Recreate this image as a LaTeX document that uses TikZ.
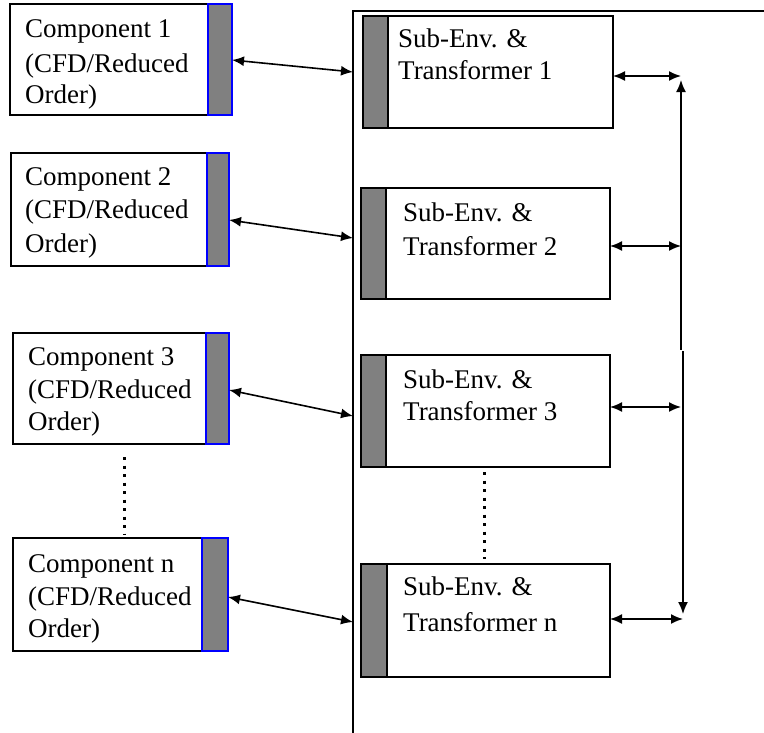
\documentclass[tikz,border=0pt]{standalone}
\usepackage{fontspec}
\setmainfont{Liberation Serif}
\usetikzlibrary{arrows.meta}
\definecolor{stripgray}{RGB}{128,128,128}
\begin{document}
\begin{tikzpicture}[x=1pt,y=-1pt,
  box/.style={draw=black, line width=1.6pt, fill=white, inner sep=0pt, outer sep=0pt, anchor=north west},
  cstrip/.style={draw=blue, line width=1.4pt, fill=stripgray, inner sep=0pt, outer sep=0pt, anchor=north west},
  sstrip/.style={draw=black, line width=1.6pt, fill=stripgray, inner sep=0pt, outer sep=0pt, anchor=north west},
  lbl/.style={anchor=base west, inner sep=0pt, font=\fontsize{27}{33}\selectfont},
  tip/.style={Latex[length=12pt,width=10pt]},
  link/.style={line width=1.6pt, {Latex[length=12pt,width=10pt]}-{Latex[length=12pt,width=10pt]}},
  dotline/.style={line width=3pt, dash pattern=on 3pt off 5.5pt},
]
\useasboundingbox (0,0) rectangle (764,732);

% enclosing frame
\coordinate (fb) at (353,740);
\coordinate (ftl) at (353,11);
\coordinate (fr) at (770,11);
\draw[line width=1.6pt] (fb) -- (ftl) -- (fr);

% components
\node[box, minimum width=222pt, minimum height=111pt] (c1) at (10,4) {};
\node[cstrip, minimum width=24pt, minimum height=111pt] (c1s) at (208,4) {};
\node[lbl] (c1a) at (25,37) {Component 1};
\node[lbl] (c1b) at (25,72) {(CFD/Reduced};
\node[lbl] (c1c) at (25,103) {Order)};

\node[box, minimum width=218pt, minimum height=113pt] (c2) at (11,153) {};
\node[cstrip, minimum width=22pt, minimum height=113pt] (c2s) at (207,153) {};
\node[lbl] (c2a) at (25,185) {Component 2};
\node[lbl] (c2b) at (25,218) {(CFD/Reduced};
\node[lbl] (c2c) at (25,252) {Order)};

\node[box, minimum width=216pt, minimum height=111pt] (c3) at (13,333) {};
\node[cstrip, minimum width=23pt, minimum height=111pt] (c3s) at (206,333) {};
\node[lbl] (c3a) at (28,365) {Component 3};
\node[lbl] (c3b) at (28,398) {(CFD/Reduced};
\node[lbl] (c3c) at (28,430) {Order)};

\node[box, minimum width=215pt, minimum height=113pt] (cn) at (13,538) {};
\node[cstrip, minimum width=26pt, minimum height=113pt] (cns) at (202,538) {};
\node[lbl] (cna) at (28,572) {Component n};
\node[lbl] (cnb) at (28,605) {(CFD/Reduced};
\node[lbl] (cnc) at (28,637) {Order)};

% sub-environments
\node[box, minimum width=250pt, minimum height=112pt] (s1) at (363,16) {};
\node[sstrip, minimum width=25pt, minimum height=112pt] (s1s) at (363,16) {};
\node[lbl] (s1a) at (398,47) {Sub-Env. \&};
\node[lbl] (s1b) at (398,79) {Transformer 1};

\node[box, minimum width=249pt, minimum height=111pt] (s2) at (361,188) {};
\node[sstrip, minimum width=25pt, minimum height=111pt] (s2s) at (361,188) {};
\node[lbl] (s2a) at (403,221) {Sub-Env. \&};
\node[lbl] (s2b) at (403,255) {Transformer 2};

\node[box, minimum width=249pt, minimum height=112pt] (s3) at (361,355) {};
\node[sstrip, minimum width=25pt, minimum height=112pt] (s3s) at (361,355) {};
\node[lbl] (s3a) at (403,388) {Sub-Env. \&};
\node[lbl] (s3b) at (403,420) {Transformer 3};

\node[box, minimum width=249pt, minimum height=113pt] (sn) at (361,564) {};
\node[sstrip, minimum width=26pt, minimum height=113pt] (sns) at (361,564) {};
\node[lbl] (sna) at (403,595) {Sub-Env. \&};
\node[lbl] (snb) at (403,631) {Transformer n};

% left links
\coordinate (a1) at (232,60);
\coordinate (a2) at (229,220);
\coordinate (a3) at (229,390);
\coordinate (a4) at (228,597);
\coordinate (l1) at (353,72);
\coordinate (l2) at (353,238);
\coordinate (l3) at (353,416);
\coordinate (l4) at (353,622);
\draw[link] (a1) -- (l1);
\draw[link] (a2) -- (l2);
\draw[link] (a3) -- (l3);
\draw[link] (a4) -- (l4);

% right bus
\coordinate (b1) at (681,76);
\coordinate (b2) at (681,246);
\coordinate (b3) at (681,407);
\coordinate (b4) at (683,619);
\draw[link] (s1.east |- b1) -- (b1);
\draw[link] (s2.east |- b2) -- (b2);
\draw[link] (s3.east |- b3) -- (b3);
\draw[link] (sn.east |- b4) -- (b4);
\coordinate (v1) at (681,80);
\coordinate (v2) at (681,350);
\coordinate (v3) at (683,351);
\coordinate (v4) at (683,614);
\draw[line width=1.6pt, {Latex[length=12pt,width=10pt]}-] (v1) -- (v2);
\draw[line width=1.6pt, -{Latex[length=12pt,width=10pt]}] (v3) -- (v4);

% ellipsis dots
\draw[dotline] (124,457) -- (124,535);
\draw[dotline] (484,472) -- (484,559);
\end{tikzpicture}
\end{document}
